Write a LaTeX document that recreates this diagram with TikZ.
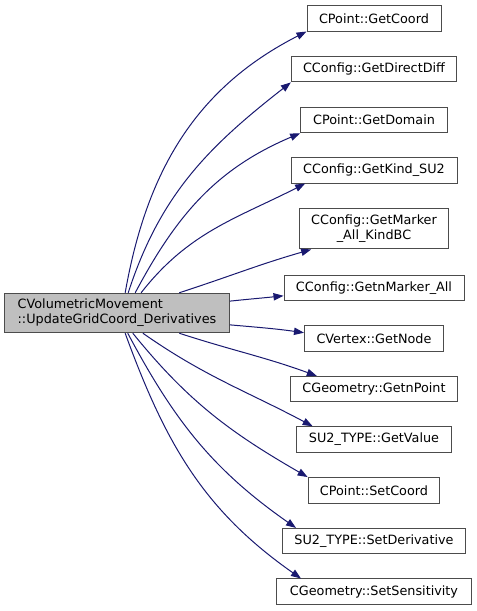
\documentclass[tikz,border=0pt]{standalone}
\usepackage{fontspec}
\setmainfont{DejaVu Sans}
\usepackage{tikz}
\usetikzlibrary{arrows.meta}
\definecolor{edgeblue}{RGB}{25,25,112}
\definecolor{rootgray}{RGB}{191,191,191}

\begin{document}
\begin{tikzpicture}[x=0.75pt,y=0.75pt,
  fnbox/.style={draw=black!70,fill=white,line width=0.75pt,inner sep=0pt,
    font=\fontsize{9.6}{11.25}\selectfont,align=center},
  fnroot/.style={fnbox,fill=rootgray,align=left,minimum width=168.4pt,minimum height=29.6pt},
  call/.style={edgeblue,line width=0.75pt,-{Triangle[length=7.5pt,width=5.5pt]}}]
\useasboundingbox (0,0) rectangle (476,611);
\node[fnroot] (src) at (117,298) {CVolumetricMovement\\::UpdateGridCoord\_Derivatives};
\foreach \i/\y/\w/\h/\lab in {
  1/592.7/100.5pt/19.1pt/{CPoint::GetCoord},
  2/541.8/124pt/19.1pt/{CConfig::GetDirectDiff},
  3/491/110pt/19.1pt/{CPoint::GetDomain},
  4/440.7/124.5pt/19.1pt/{CConfig::GetKind\_SU2},
  5/382/111.5pt/30pt/{CConfig::GetMarker\\\_All\_KindBC},
  6/323.2/135pt/19.1pt/{CConfig::GetnMarker\_All},
  7/272.3/104.25pt/19.1pt/{CVertex::GetNode},
  8/221.8/125pt/19.1pt/{CGeometry::GetnPoint},
  9/171.5/116.25pt/19.1pt/{SU2\_TYPE::GetValue},
  10/120.7/98.8pt/19.1pt/{CPoint::SetCoord},
  11/69.8/137.8pt/19.1pt/{SU2\_TYPE::SetDerivative},
  12/19.3/146.25pt/19.1pt/{CGeometry::SetSensitivity}}{
  \node[fnbox,minimum width=\w,minimum height=\h] (n\i) at (374,\y) {\lab};
}
\foreach \i/\a/\o/\ia/\t/\dx/\dy in {
  1/68/80/207/south west/0pt/0pt,
  2/61/72/218/south west/0pt/0pt,
  3/48/62/203/south west/0pt/0pt,
  4/40/52/207/south west/11pt/0pt,
  5/18/18/196/south west/9pt/0pt,
  6/6/6/186/west/0pt/-6pt,
  7/354/355/172/west/0pt/4.5pt,
  8/342/342/160/north west/20pt/0pt,
  9/322/325/152/north west/12.5pt/0pt,
  10/308/309/150/north west/0pt/0pt,
  11/298/298/145/north west/10.8pt/0pt,
  12/292/290/145/north west/18.75pt/0pt}{
  \draw[call] (src.\a) to[out=\o,in=\ia] ([xshift=\dx,yshift=\dy]n\i.\t);
}
\end{tikzpicture}
\end{document}
